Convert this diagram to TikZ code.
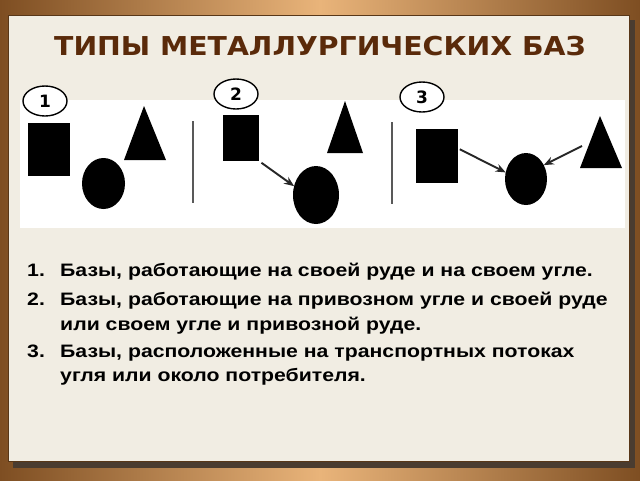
\documentclass[tikz,border=0pt]{standalone}
\usepackage{fontspec}
\setmainfont{Liberation Sans}
\newfontfamily\titlefont[FakeStretch=1.09]{DejaVu Sans}
\newfontfamily\tagfont{DejaVu Sans}
\newfontfamily\listfont[FakeStretch=1.18]{Liberation Sans}
\usetikzlibrary{shapes.geometric,arrows.meta}
\definecolor{framedark}{HTML}{7E4E22}
\definecolor{framelight}{HTML}{E9B47A}
\definecolor{panel}{HTML}{F1EDE3}
\definecolor{titlebrown}{HTML}{5A2A0A}
\definecolor{shadowc}{HTML}{4A3C30}
\begin{document}
\begin{tikzpicture}[x=1pt,y=-1pt,
  sq/.style={rectangle,fill=black,inner sep=0pt,outer sep=0pt},
  el/.style={ellipse,fill=black,inner sep=0pt,outer sep=0pt},
  tag/.style={ellipse,draw=black,line width=1.4pt,fill=white,inner sep=0pt,
    minimum width=44pt,minimum height=30pt,font=\tagfont\bfseries\fontsize{17}{17}\selectfont},
  arr/.style={draw=black!85,line width=1.9pt,-{Stealth[length=10pt,width=8pt]}},
  sepline/.style={draw=black!65,line width=2.4pt},
  item/.style={anchor=base west,inner sep=0pt,font=\listfont\bfseries\fontsize{18}{22}\selectfont}]
\useasboundingbox (0,0) rectangle (640,480);
% frame
\shade[left color=framedark,right color=framedark,middle color=framelight] (0,0) rectangle (640,480);
\fill[shadowc] (13,20) rectangle (635,468);
\fill[panel] (8,15) rectangle (629,461);
\draw[framedark!70!black,line width=0.6pt] (8,15) rectangle (629,461);
% title
\node[font=\titlefont\bfseries\fontsize{26}{26}\selectfont,text=titlebrown] (title) at (320,46) {ТИПЫ МЕТАЛЛУРГИЧЕСКИХ БАЗ};
% picture area
\fill[white] (20,100) rectangle (625,228);
\draw[sepline] (193,121) -- (193,203);
\draw[sepline] (392,122) -- (392,204);
% tags
\node[tag] (n1) at (45,101) {1};
\node[tag] (n2) at (236,94) {2};
\node[tag] (n3) at (422,97) {3};
% type 1
\node[sq,minimum width=42pt,minimum height=53pt] (sq1) at (49,149.5) {};
\node[el,minimum width=43pt,minimum height=51pt] (el1) at (103.5,183.5) {};
\fill (144,106) -- (166,160) -- (124,160) -- cycle;
% type 2
\node[sq,minimum width=36pt,minimum height=46pt] (sq2) at (241,138) {};
\node[el,minimum width=46pt,minimum height=58pt] (el2) at (316,195) {};
\fill (345,101) -- (363,153) -- (327,153) -- cycle;
\draw[arr,shorten <=3pt] (sq2.south east) -- (el2.158);
% type 3
\node[sq,minimum width=42pt,minimum height=54pt] (sq3) at (437,156) {};
\node[el,minimum width=42pt,minimum height=52pt] (el3) at (526,179) {};
\fill (600,116) -- (622,168) -- (580,168) -- cycle;
\coordinate (t3) at (582,146);
\draw[arr,shorten <=2pt] (sq3.20) -- (el3.162);
\draw[arr] (t3) -- (el3.38);
% list
\node[item] (l1n) at (27,276) {1.};
\node[item] (l1) at (60,276) {Базы, работающие на своей руде и на своем угле.};
\node[item] (l2n) at (27,305) {2.};
\node[item] (l2) at (60,305) {Базы, работающие на привозном угле и своей руде};
\node[item] (l3) at (60,330) {или своем угле и привозной руде.};
\node[item] (l4n) at (27,357) {3.};
\node[item] (l4) at (60,357) {Базы, расположенные на транспортных потоках};
\node[item] (l5) at (60,381) {угля или около потребителя.};
\end{tikzpicture}
\end{document}
